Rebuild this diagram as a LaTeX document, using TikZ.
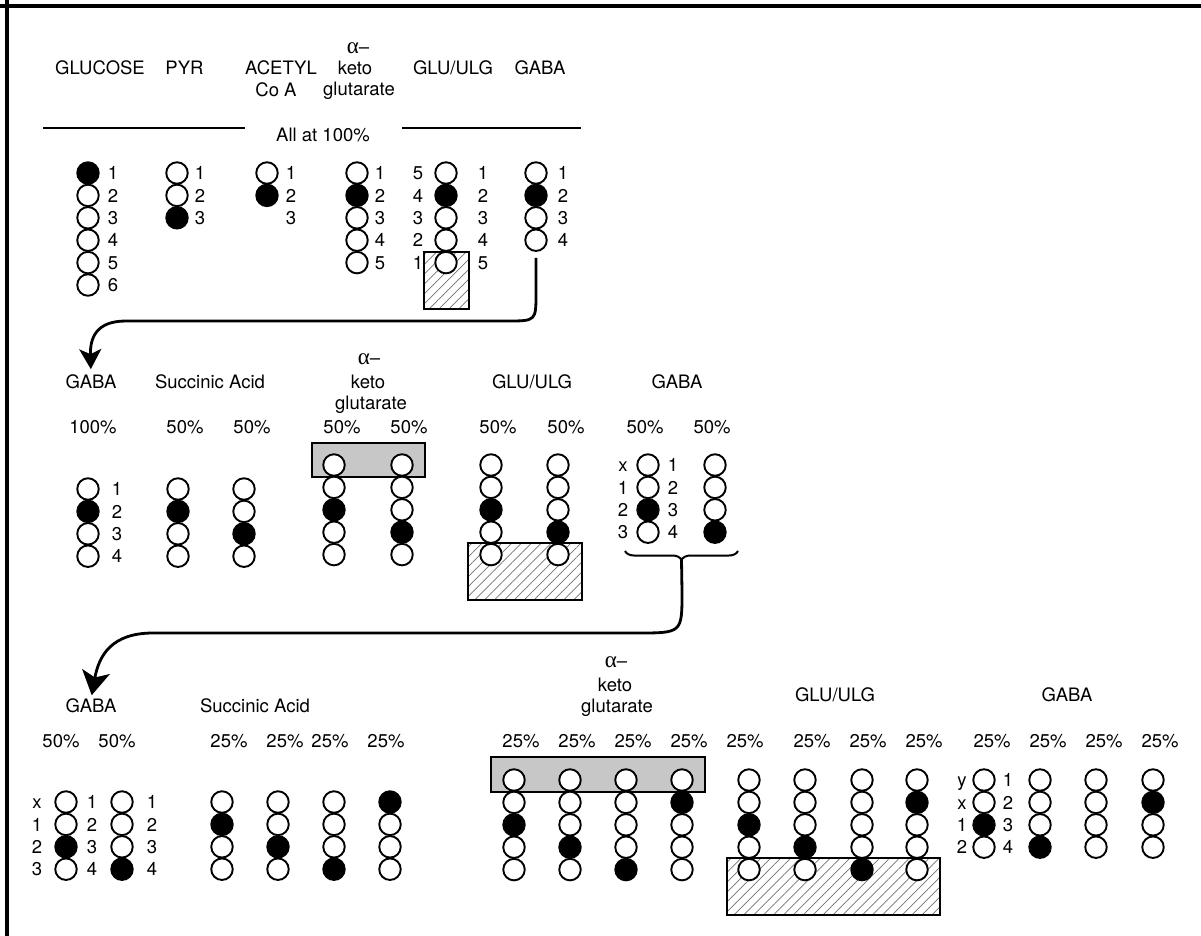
\documentclass[tikz,border=0pt]{standalone}
\usepackage{fontspec}
\setmainfont{TeX Gyre Heros}
\newfontfamily\grk{Liberation Serif}
\usetikzlibrary{arrows.meta,patterns.meta,decorations.pathreplacing}
\newcommand\fs{\fontsize{18.5}{22}\selectfont}
\newcommand\alp{{\grk\fontsize{23}{24}\selectfont α}–}
% column of circles: name, x, y0, count, filled index (0 = none)
\newcommand\mcol[5]{%
  \foreach \k in {1,...,#4}{%
    \ifnum\k=#5\relax\colorlet{cfill}{black}\else\colorlet{cfill}{white}\fi
    \node[oc, fill=cfill] (#1\k) at (#2,{#3+(\k-1)*22.4}) {};
  }}
% column of labels: name, x, y0, list
\newcommand\mnums[4]{%
  \foreach \t [count=\k] in {#4}{%
    \node[lab] (#1\k) at (#2,{#3+(\k-1)*22.4}) {\t};
  }}
\begin{document}
\begin{tikzpicture}[x=1pt,y=-1pt,
  oc/.style={circle, draw, line width=1.9pt, minimum size=21.5pt, inner sep=0pt},
  lab/.style={inner sep=0pt, text height=13.3pt, text depth=0pt, font=\fs},
  conn/.style={line width=2.8pt},
  rule/.style={line width=1.5pt},
  graybox/.style={draw, line width=1.5pt, fill=black!22},
  hatchbox/.style={draw, line width=1.5pt, pattern={Lines[angle=45,distance=7pt,line width=0.7pt]}, pattern color=black!55},
  frame/.style={line width=4pt}
]
\useasboundingbox (0,0) rectangle (1201,936);
\fill[white] (0,0) rectangle (1201,936);
\draw[frame] (0,6.5) -- (1201,6.5);
\draw[frame] (7,0) -- (7,936);

% ================= TOP ROW =================
\node[lab] (tGlc) at (100,68) {GLUCOSE};
\node[lab] (tPyr) at (184.5,68) {PYR};
\node[lab] (tAca) at (281,68) {ACETYL};
\node[lab] (tAcb) at (276,90) {Co A};
\node[lab] (tKa) at (358,47) {\alp};
\node[lab] (tKb) at (355,68) {keto};
\node[lab] (tKc) at (359,89) {glutarate};
\node[lab] (tGlu) at (453,68) {GLU/ULG};
\node[lab] (tGab) at (540,68) {GABA};
\node[lab] (tAll) at (323,135) {All at 100\%};
\draw[rule] (43,128) -- (245,128);
\draw[rule] (402,128) -- (581,128);

\draw[hatchbox] (424,252) rectangle (469,309);

\mcol{tg}{88}{173}{6}{1}
\mnums{tgn}{113}{173}{1,2,3,4,5,6}
\mcol{tp}{177}{173}{3}{3}
\mnums{tpn}{200}{173}{1,2,3}
\mcol{ta}{267}{173}{2}{2}
\mnums{tan}{291}{173}{1,2,3}
\mcol{tk}{357}{173}{5}{2}
\mnums{tkn}{380}{173}{1,2,3,4,5}
\mcol{tu}{446}{173}{5}{2}
\mnums{tul}{418}{173}{5,4,3,2,1}
\mnums{tur}{483}{173}{1,2,3,4,5}
\mcol{tb}{536}{173}{4}{2}
\mnums{tbn}{563}{173}{1,2,3,4}

% ================= MIDDLE ROW =================
\node[lab] (mGab) at (91,382) {GABA};
\node[lab] (mSuc) at (210,382) {Succinic Acid};
\node[lab] (mKa) at (369,358) {\alp};
\node[lab] (mKb) at (368,382) {keto};
\node[lab] (mKc) at (371,403) {glutarate};
\node[lab] (mGlu) at (532,382) {GLU/ULG};
\node[lab] (mGab2) at (677,382) {GABA};

\node[lab] (mp1) at (93,427) {100\%};
\node[lab] (mp2) at (185,427) {50\%};
\node[lab] (mp3) at (252,427) {50\%};
\node[lab] (mp4) at (342,427) {50\%};
\node[lab] (mp5) at (409,427) {50\%};
\node[lab] (mp6) at (498,427) {50\%};
\node[lab] (mp7) at (566,427) {50\%};
\node[lab] (mp8) at (645,427) {50\%};
\node[lab] (mp9) at (712,427) {50\%};

\draw[graybox] (312,443) rectangle (425,477);
\draw[hatchbox] (468,543) rectangle (582,600);

\mcol{mg}{88}{489}{4}{2}
\mnums{mgn}{117}{489}{1,2,3,4}
\mcol{msa}{178}{489}{4}{2}
\mcol{msb}{244}{489}{4}{3}
\mcol{mka}{334}{465}{5}{3}
\mcol{mkb}{402}{465}{5}{4}
\mcol{mua}{491}{465}{5}{3}
\mcol{mub}{558}{465}{5}{4}
\mcol{mba}{648}{465}{4}{3}
\mcol{mbb}{715}{465}{4}{4}
\mnums{mbl}{623}{465}{x,1,2,3}
\mnums{mbr}{673}{465}{1,2,3,4}

\draw[line width=2pt, decorate, decoration={brace, mirror, amplitude=9pt}] (625,551) -- (738,551);
\coordinate (bt) at (681.5,560);

% ================= BOTTOM ROW =================
\node[lab] (bGab) at (91,706) {GABA};
\node[lab] (bSuc) at (255,706) {Succinic Acid};
\node[lab] (bKa) at (616,661) {\alp};
\node[lab] (bKb) at (615,685) {keto};
\node[lab] (bKc) at (617,706) {glutarate};
\node[lab] (bGlu) at (835,695) {GLU/ULG};
\node[lab] (bGab2) at (1067,695) {GABA};

\node[lab] (bq1) at (61,741) {50\%};
\node[lab] (bq2) at (117,741) {50\%};
\foreach \xx [count=\k] in {229,285,330,386,521,577,633,689,745,812,868,924,992,1048,1104,1160}{
  \node[lab] (bp\k) at (\xx,741) {25\%};
}

\draw[graybox] (491,757) rectangle (705,792);
\draw[hatchbox] (727,858) rectangle (940,915);

\mcol{bga}{66}{802}{4}{3}
\mcol{bgb}{122}{802}{4}{4}
\mnums{bgl}{37}{802}{x,1,2,3}
\mnums{bgm}{92}{802}{1,2,3,4}
\mnums{bgr}{152}{802}{1,2,3,4}

\mcol{bsa}{222}{802}{4}{2}
\mcol{bsb}{278}{802}{4}{3}
\mcol{bsc}{334}{802}{4}{4}
\mcol{bsd}{390}{802}{4}{1}

\mcol{bka}{514}{780}{5}{3}
\mcol{bkb}{570}{780}{5}{4}
\mcol{bkc}{626}{780}{5}{5}
\mcol{bkd}{682}{780}{5}{2}

\mcol{bua}{749}{780}{5}{3}
\mcol{bub}{805}{780}{5}{4}
\mcol{buc}{862}{780}{5}{5}
\mcol{bud}{917}{780}{5}{2}

\mcol{bba}{984}{780}{4}{3}
\mcol{bbb}{1040}{780}{4}{4}
\mcol{bbc}{1096}{780}{4}{0}
\mcol{bbd}{1153}{780}{4}{2}
\mnums{bbl}{962}{780}{y,x,1,2}
\mnums{bbr}{1008}{780}{1,2,3,4}

% ================= CONNECTORS =================
\draw[conn, shorten >=6pt, -{Stealth[length=20pt,width=22pt,inset=5pt]}]
  ([yshift=-6pt]tb4.south) -- (536,293) .. controls (536,321) .. (507,321)
  -- (126,321) .. controls (96,321) and (90,338) .. (mGab.north);
\draw[conn, shorten >=4pt, -{Stealth[length=24pt,width=28pt,inset=6pt]}]
  (bt) -- (682,592) .. controls (682,633) .. (637,633)
  -- (153,633) .. controls (112,633) and (99,655) .. (bGab.north);
\end{tikzpicture}
\end{document}
